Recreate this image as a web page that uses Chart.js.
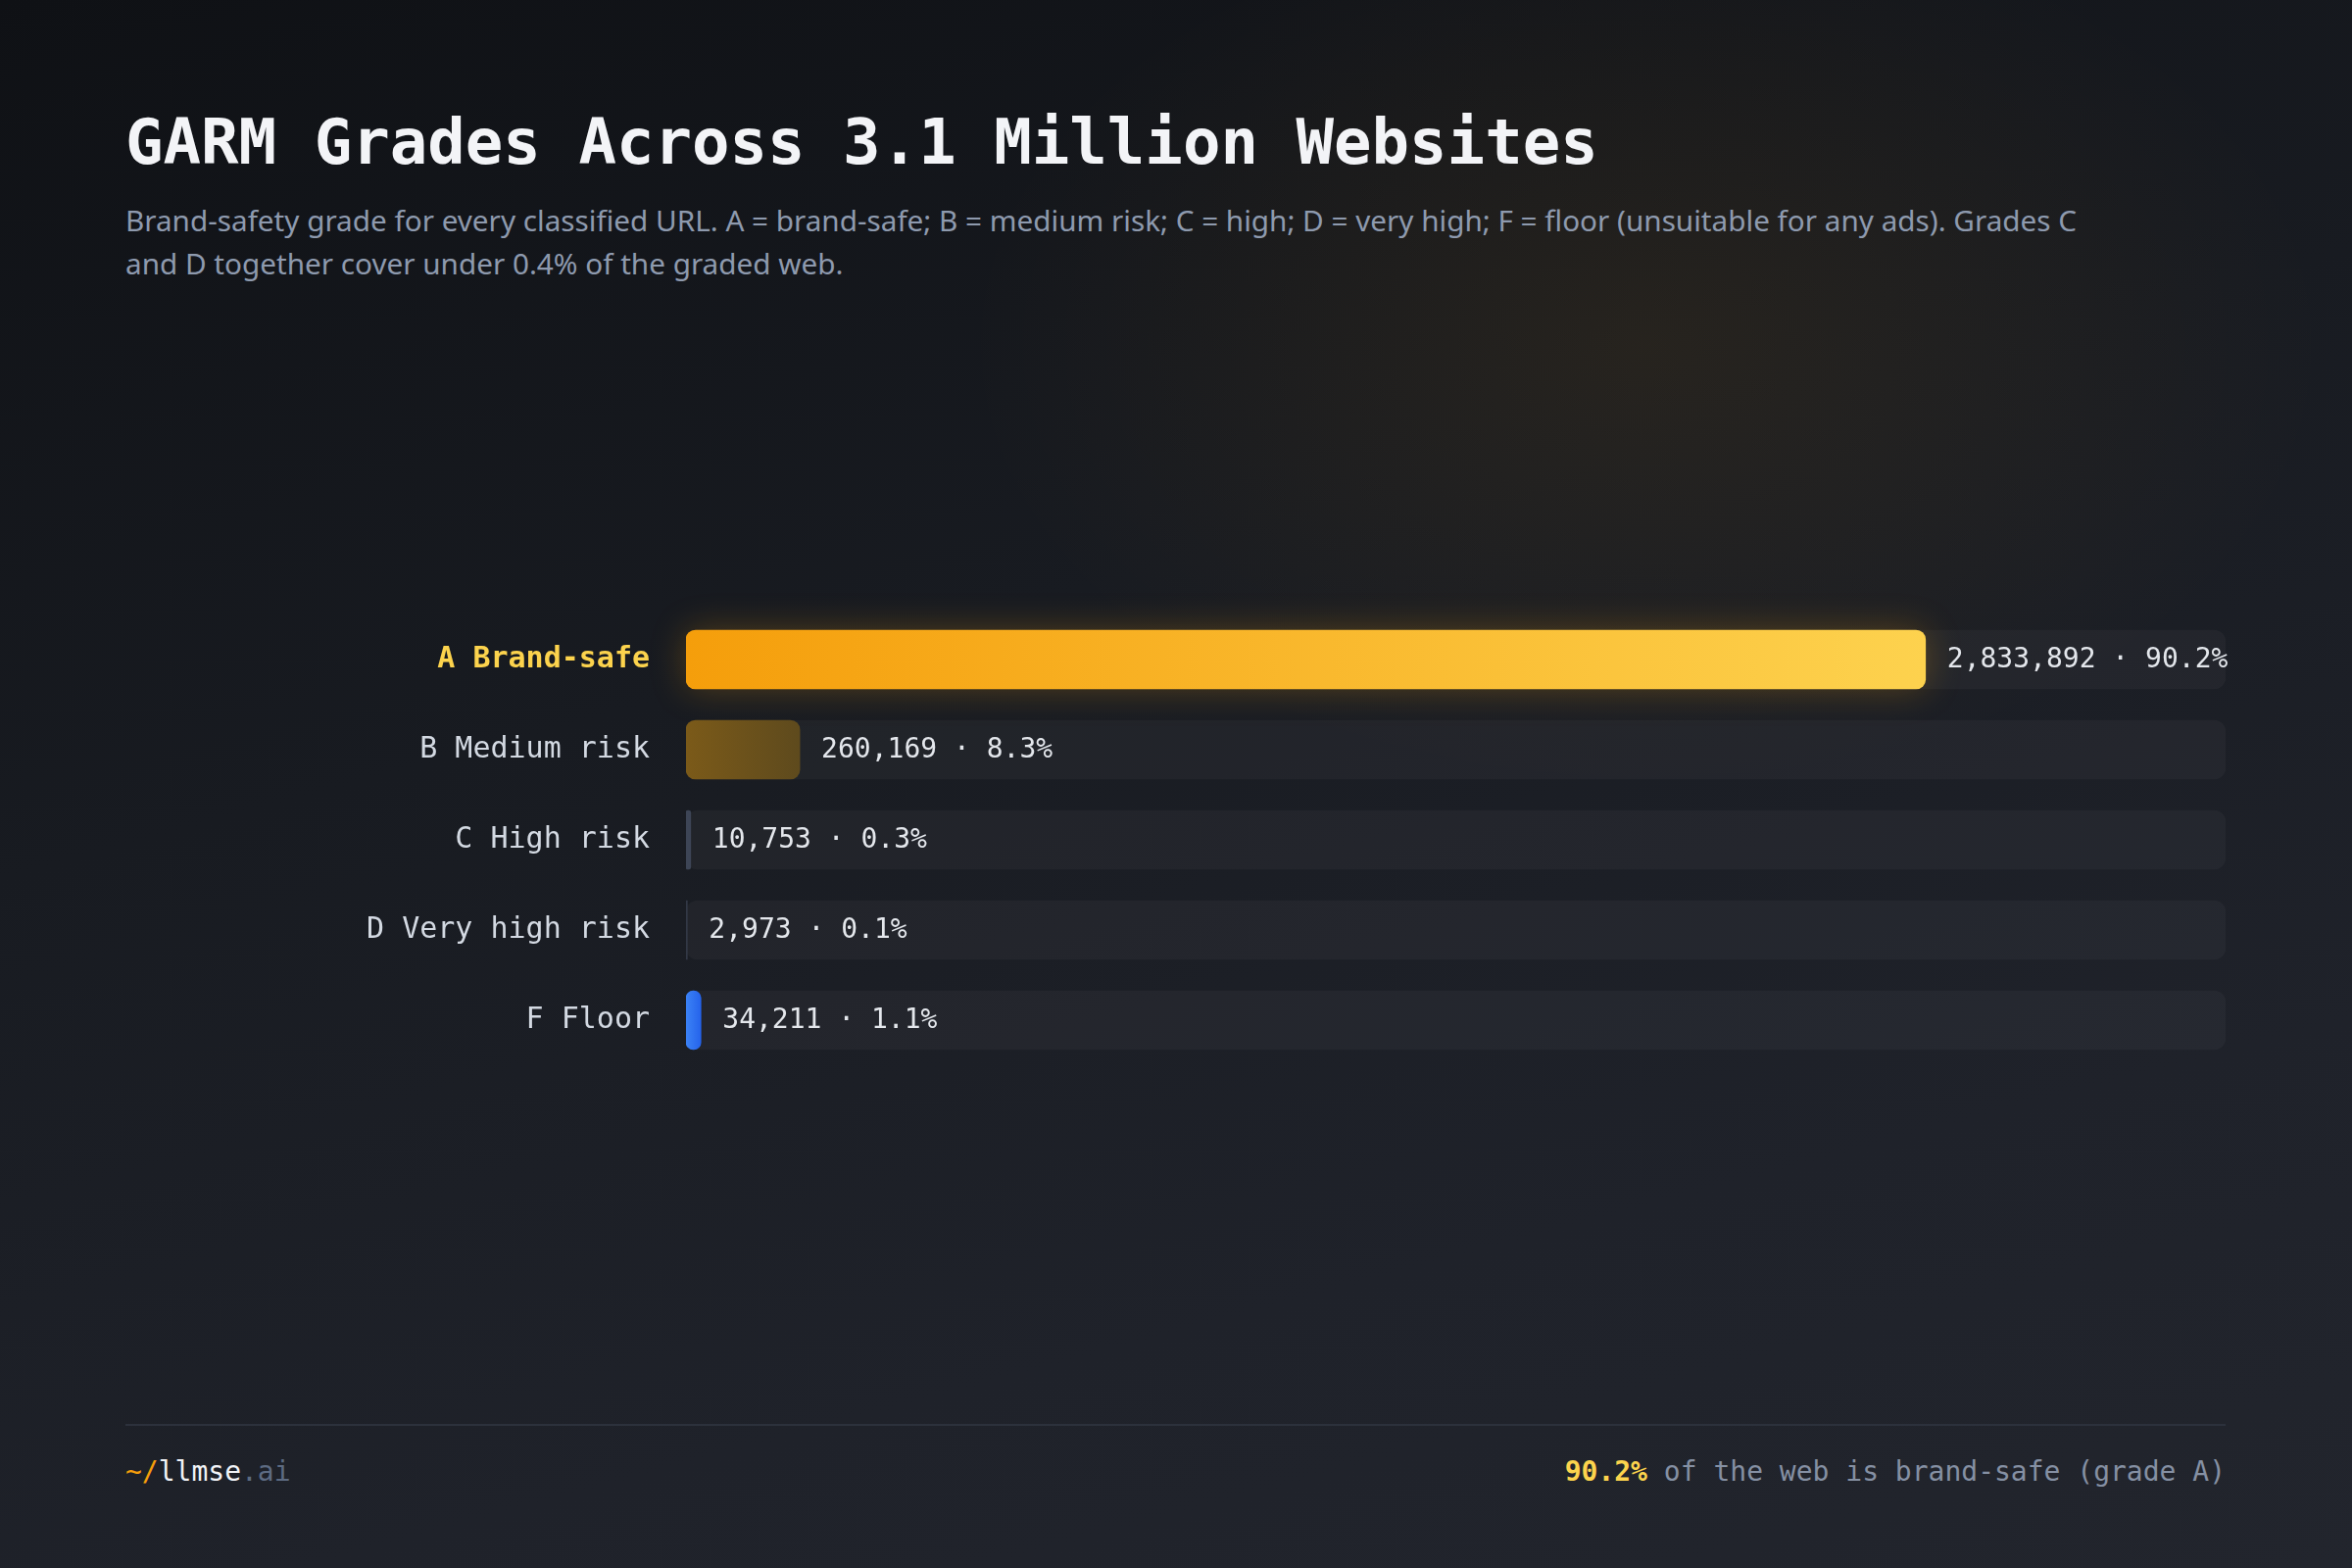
<!DOCTYPE html>
<html>
<head>
<meta charset="utf-8">
<script src="https://cdn.jsdelivr.net/npm/chart.js@4.4.1/dist/chart.umd.min.js"></script>
<style>
  html, body { margin: 0; padding: 0; }
  body {
    width: 2400px; height: 1600px; position: relative; overflow: hidden;
    background:
      radial-gradient(ellipse 1000px 650px at 70% 22%, rgba(245,158,11,0.07), rgba(245,158,11,0) 70%),
      linear-gradient(165deg, #0f1115 0%, #181b21 40%, #1f222a 75%, #22252d 100%);
    font-family: "DejaVu Sans Mono", monospace;
  }
  .title {
    position: absolute; left: 128px; top: 108px; margin: 0;
    font-size: 64px; line-height: 74px; font-weight: bold; color: #f3f4f7;
    white-space: nowrap;
  }
  .subtitle {
    position: absolute; left: 128px; top: 203px; margin: 0;
    font-family: "Noto Sans", sans-serif; font-size: 29.7px; line-height: 44px;
    color: #8e9aae; white-space: nowrap;
  }
  /* chart.js keeps ~55px above and below the bars, so the box is taller than the rows */
  .chart-wrap { position: absolute; left: 0; top: 572px; width: 2400px; height: 570px; }
  .chart-wrap canvas { display: block; }
  .rule { position: absolute; left: 128px; top: 1453px; width: 2143px; height: 2px; background: #2c313c; }
  .foot { position: absolute; top: 1484px; font-size: 28px; line-height: 36px; white-space: nowrap; }
  .foot.left { left: 128px; color: #f1f3f7; }
  .foot.right { right: 129px; color: #8590a3; }
  .amber { color: #f59e0b; }
  .muted { color: #5d6b82; }
  .hl { color: #fcd34d; font-weight: bold; }
</style>
</head>
<body>
<h1 class="title">GARM Grades Across 3.1 Million Websites</h1>
<p class="subtitle">Brand-safety grade for every classified URL. A = brand-safe; B = medium risk; C = high; D = very high; F = floor (unsuitable for any ads). Grades C<br>and D together cover under 0.4% of the graded web.</p>

<div class="chart-wrap"><canvas id="garm-chart"></canvas></div>

<div class="rule"></div>
<div class="foot left"><span class="amber">~/</span>llmse<span class="muted">.ai</span></div>
<div class="foot right"><span class="hl">90.2%</span> of the web is brand-safe (grade A)</div>

<script>
const grades = ["A Brand-safe", "B Medium risk", "C High risk", "D Very high risk", "F Floor"];
const siteCounts = [2833892, 260169, 10753, 2973, 34211];
const sharePct = ["90.2", "8.3", "0.3", "0.1", "1.1"];

const axisMax = 3520000;
const trackValues = grades.map(() => axisMax);

function barFill(ctx) {
  const chart = ctx.chart;
  const x = chart.scales.x;
  const i = ctx.dataIndex;
  if (!x || x.left === undefined || isNaN(x.left)) return "#f59e0b";
  const x0 = x.getPixelForValue(0);
  const x1 = Math.max(x.getPixelForValue(siteCounts[i]), x0 + 1);
  const g = chart.ctx.createLinearGradient(x0, 0, x1, 0);
  if (i === 0) { g.addColorStop(0, "#f59e0b"); g.addColorStop(1, "#fdd24e"); }
  else if (i === 1) { g.addColorStop(0, "#7b5a19"); g.addColorStop(1, "#5e4a1d"); }
  else if (i === 2) { g.addColorStop(0, "#3d4556"); g.addColorStop(1, "#3d4556"); }
  else if (i === 3) { g.addColorStop(0, "#323846"); g.addColorStop(1, "#323846"); }
  else { g.addColorStop(0, "#3b82f6"); g.addColorStop(1, "#2563eb"); }
  return g;
}

// soft amber glow behind the top bar
const glowPlugin = {
  id: "glow",
  beforeDatasetDraw(chart, args) {
    if (args.index !== 1) return;
    const bar = chart.getDatasetMeta(1).data[0];
    if (!bar) return;
    const c = chart.ctx;
    const h = bar.height, left = bar.base, w = bar.x - bar.base;
    c.save();
    c.shadowColor = "rgba(245,158,11,0.45)";
    c.shadowBlur = 36;
    c.fillStyle = "rgba(245,158,11,0.6)";
    c.beginPath();
    c.roundRect(left, bar.y - h / 2, w, h, 10);
    c.fill();
    c.restore();
  }
};

const valueLabels = {
  id: "valueLabels",
  afterDatasetsDraw(chart) {
    const meta = chart.getDatasetMeta(1);
    const c = chart.ctx;
    c.save();
    c.font = '28px "DejaVu Sans Mono", monospace';
    c.fillStyle = "#e4e7ec";
    c.textAlign = "left";
    c.textBaseline = "middle";
    meta.data.forEach((bar, i) => {
      const txt = siteCounts[i].toLocaleString("en-US") + " · " + sharePct[i] + "%";
      c.fillText(txt, bar.x + 22, bar.y + 1);
    });
    c.restore();
  }
};

new Chart(document.getElementById("garm-chart"), {
  type: "bar",
  data: {
    labels: grades,
    datasets: [
      {
        label: "track",
        data: trackValues,
        backgroundColor: "rgba(255,255,255,0.035)",
        borderRadius: 12,
        borderSkipped: false,
        barThickness: 60,
        grouped: false,
        order: 2,
      },
      {
        label: "Websites",
        data: siteCounts,
        backgroundColor: barFill,
        borderRadius: 10,
        borderSkipped: false,
        barThickness: 60,
        grouped: false,
        order: 1,
      },
    ],
  },
  options: {
    indexAxis: "y",
    responsive: true,
    maintainAspectRatio: false,
    animation: false,
    layout: { padding: { left: 0, right: 129, top: 0, bottom: 0 } },
    plugins: {
      legend: { display: false },
      tooltip: { enabled: false },
    },
    scales: {
      x: {
        display: false,
        min: 0,
        max: axisMax,
      },
      y: {
        grid: { display: false, drawTicks: false },
        border: { display: false },
        afterFit: (scale) => { scale.width = 700; },
        ticks: {
          padding: 37,
          color: (ctx) => ctx.index === 0 ? "#fcd34d" : "#d3d9e2",
          font: (ctx) => ({
            family: '"DejaVu Sans Mono", monospace',
            size: 30,
            weight: ctx.index === 0 ? "bold" : "normal",
          }),
        },
      },
    },
  },
  plugins: [glowPlugin, valueLabels],
});
</script>
</body>
</html>
